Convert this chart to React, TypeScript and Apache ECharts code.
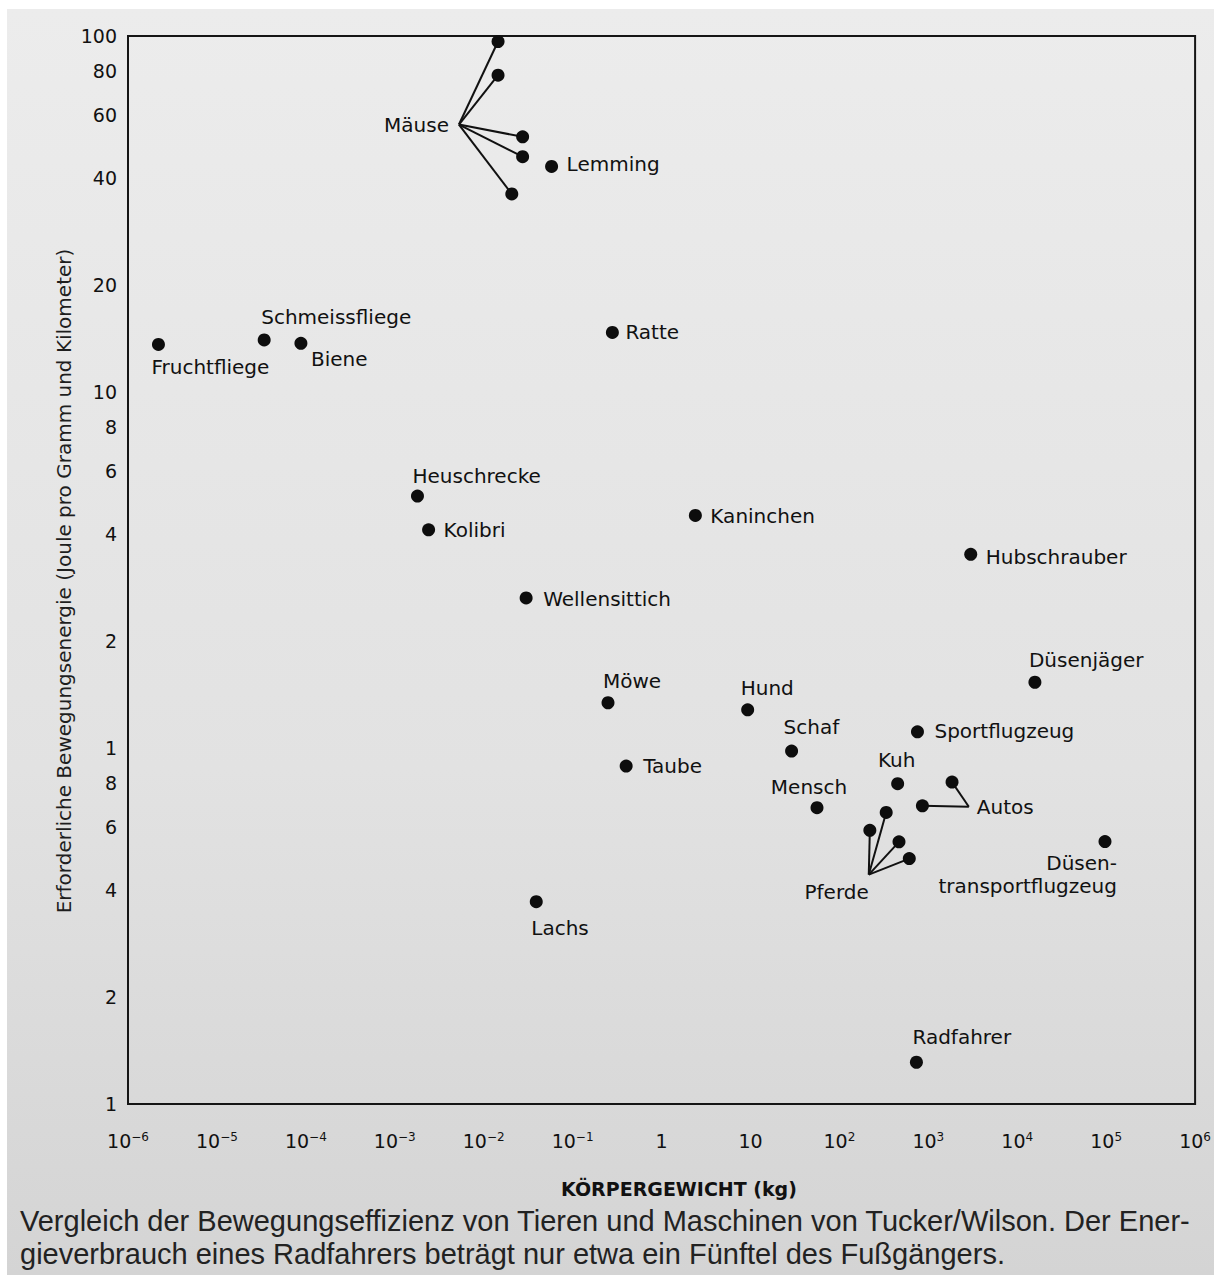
import React, { useEffect, useRef } from "react";
import * as echarts from "echarts";

// ---------- data (mass in kg, energy in J per g per km) ----------
const X_MIN = 1e-6;
const X_MAX = 1e6;
const Y_MIN = 0.1;
const Y_MAX = 100;

const pointNames = [
  "Lemming", "Fruchtfliege", "Schmeissfliege", "Biene", "Ratte", "Heuschrecke",
  "Kolibri", "Kaninchen", "Hubschrauber", "Wellensittich", "Möwe", "Hund",
  "Düsenjäger", "Sportflugzeug", "Schaf", "Taube", "Kuh", "Mensch",
  "Düsen-\ntransportflugzeug", "Lachs", "Radfahrer",
];
const pointMass = [
  0.058, 2.2e-6, 3.4e-5, 8.8e-5, 0.28, 0.0018,
  0.0024, 2.4, 3000, 0.030, 0.25, 9.3,
  15800, 755, 29, 0.40, 452, 56,
  97000, 0.039, 735,
];
const pointEnergy = [
  43, 13.6, 14.0, 13.7, 14.7, 5.1,
  4.1, 4.5, 3.5, 2.64, 1.34, 1.28,
  1.53, 1.11, 0.98, 0.89, 0.794, 0.68,
  0.546, 0.37, 0.131,
];

const mouseMass = [0.0145, 0.0145, 0.0274, 0.0274, 0.0207];
const mouseEnergy = [96.5, 77.6, 52.1, 45.8, 36.0];
const horseMass = [336, 220, 468, 611];
const horseEnergy = [0.659, 0.587, 0.545, 0.489];
const carMass = [1848, 858];
const carEnergy = [0.802, 0.688];

const groupNames = ["Mäuse", "Pferde", "Autos"];
const groupAnchorMass = [0.00527, 214, 2855];
const groupAnchorEnergy = [56.4, 0.441, 0.684];

const yTickValues = [100, 80, 60, 40, 20, 10, 8, 6, 4, 2, 1, 0.8, 0.6, 0.4, 0.2, 0.1];
const yTickLabels = ["100", "80", "60", "40", "20", "10", "8", "6", "4", "2", "1", "8", "6", "4", "2", "1"];

const yAxisTitle = "Erforderliche Bewegungsenergie (Joule pro Gramm und Kilometer)";
const xAxisTitle = "KÖRPERGEWICHT (kg)";
const captionLines = [
  "Vergleich der Bewegungseffizienz von Tieren und Maschinen von Tucker/Wilson. Der Ener-",
  "gieverbrauch eines Radfahrers beträgt nur etwa ein Fünftel des Fußgängers.",
];

// ---------- label placement (screen offsets, styling) ----------
type Place = { dx: number; dy: number; align: "left" | "center" | "right" };
const labelPlace: Record<string, Place> = {
  "Lemming": { dx: 15, dy: -2, align: "left" },
  "Fruchtfliege": { dx: -7, dy: 23, align: "left" },
  "Schmeissfliege": { dx: -3, dy: -23, align: "left" },
  "Biene": { dx: 10, dy: 16, align: "left" },
  "Ratte": { dx: 13, dy: 0, align: "left" },
  "Heuschrecke": { dx: -5, dy: -20, align: "left" },
  "Kolibri": { dx: 15, dy: 0, align: "left" },
  "Kaninchen": { dx: 15, dy: 1, align: "left" },
  "Hubschrauber": { dx: 15, dy: 3, align: "left" },
  "Wellensittich": { dx: 17, dy: 1, align: "left" },
  "Möwe": { dx: -5, dy: -22, align: "left" },
  "Hund": { dx: -7, dy: -22, align: "left" },
  "Düsenjäger": { dx: -6, dy: -22, align: "left" },
  "Sportflugzeug": { dx: 17, dy: -1, align: "left" },
  "Schaf": { dx: -8, dy: -24, align: "left" },
  "Taube": { dx: 17, dy: 0, align: "left" },
  "Kuh": { dx: -1, dy: -24, align: "center" },
  "Mensch": { dx: -8, dy: -21, align: "center" },
  "Düsen-\ntransportflugzeug": { dx: 12, dy: 33, align: "right" },
  "Lachs": { dx: -5, dy: 26, align: "left" },
  "Radfahrer": { dx: -4, dy: -25, align: "left" },
  "Mäuse": { dx: -10, dy: 0, align: "right" },
  "Pferde": { dx: 0, dy: 17, align: "right" },
  "Autos": { dx: 8, dy: 0, align: "left" },
};

const FONT = "'DejaVu Sans', 'Liberation Sans', sans-serif";
const INK = "#111111";

function xTickLabel(v: number): string {
  const n = Math.round(Math.log10(v));
  if (n === 0) return "{b|1}";
  if (n === 1) return "{b|10}";
  const exp = n < 0 ? "\u2212" + Math.abs(n) : String(n);
  return "{b|10}{s|" + exp + "}";
}

function pointLabel(name: string) {
  const p = labelPlace[name];
  return {
    show: true,
    position: "inside",
    align: p.align,
    verticalAlign: "middle",
    offset: [p.dx, p.dy],
    formatter: name,
    color: INK,
    fontFamily: FONT,
    fontSize: 20,
    lineHeight: 23,
  };
}

export default function App() {
  const ref = useRef<HTMLDivElement>(null);

  useEffect(() => {
    const chart = echarts.init(ref.current!, null, { renderer: "svg" });

    const connectors: any[] = [];
    mouseMass.forEach((m, i) =>
      connectors.push({ coords: [[groupAnchorMass[0], groupAnchorEnergy[0]], [m, mouseEnergy[i]]] })
    );
    horseMass.forEach((m, i) =>
      connectors.push({ coords: [[groupAnchorMass[1], groupAnchorEnergy[1]], [m, horseEnergy[i]]] })
    );
    carMass.forEach((m, i) =>
      connectors.push({ coords: [[groupAnchorMass[2], groupAnchorEnergy[2]], [m, carEnergy[i]]] })
    );

    const groupDots: number[][] = [
      ...mouseMass.map((m, i) => [m, mouseEnergy[i]]),
      ...horseMass.map((m, i) => [m, horseEnergy[i]]),
      ...carMass.map((m, i) => [m, carEnergy[i]]),
    ];

    const dotStyle = { color: "#0d0d0d", opacity: 1 };
    const hiddenStyle = { color: "rgba(0,0,0,0)", opacity: 1 };

    chart.setOption({
      animation: false,
      backgroundColor: "transparent",
      grid: {
        left: 128,
        top: 36,
        width: 1068,
        height: 1068,
        show: true,
        borderColor: "#151515",
        borderWidth: 2,
        backgroundColor: "transparent",
      },
      xAxis: {
        type: "log",
        logBase: 10,
        min: X_MIN,
        max: X_MAX,
        interval: 1,
        axisLine: { show: false },
        axisTick: { show: false },
        splitLine: { show: false },
        axisLabel: {
          margin: 27,
          formatter: xTickLabel,
          rich: {
            b: { fontSize: 19, fontFamily: FONT, color: INK },
            s: { fontSize: 12, fontFamily: FONT, color: INK, verticalAlign: "top" },
          },
        },
      },
      yAxis: {
        type: "log",
        logBase: 10,
        min: Y_MIN,
        max: Y_MAX,
        axisLine: { show: false },
        axisTick: { show: false },
        splitLine: { show: false },
        axisLabel: { show: false },
      },
      series: [
        {
          type: "lines",
          coordinateSystem: "cartesian2d",
          silent: true,
          symbol: "none",
          lineStyle: { color: "#111", width: 2, opacity: 1, curveness: 0 },
          data: connectors,
          z: 2,
        },
        {
          type: "scatter",
          silent: true,
          symbolSize: 13,
          itemStyle: dotStyle,
          data: groupDots,
          z: 3,
        },
        {
          type: "scatter",
          silent: true,
          symbolSize: 13,
          itemStyle: dotStyle,
          data: pointNames.map((n, i) => ({
            name: n,
            value: [pointMass[i], pointEnergy[i]],
            label: pointLabel(n),
          })),
          z: 3,
        },
        {
          type: "scatter",
          silent: true,
          symbolSize: 0,
          itemStyle: hiddenStyle,
          data: groupNames.map((n, i) => ({
            name: n,
            value: [groupAnchorMass[i], groupAnchorEnergy[i]],
            label: pointLabel(n),
          })),
          z: 4,
        },
        {
          type: "scatter",
          silent: true,
          clip: false,
          symbolSize: 0,
          itemStyle: hiddenStyle,
          data: yTickValues.map((v, i) => ({
            value: [X_MIN, v],
            label: {
              show: true,
              position: "left",
              distance: 11,
              formatter: yTickLabels[i],
              color: INK,
              fontFamily: FONT,
              fontSize: 19,
            },
          })),
          z: 4,
        },
      ],
      graphic: [
        {
          type: "text",
          x: 64,
          y: 581,
          rotation: Math.PI / 2,
          silent: true,
          style: {
            text: yAxisTitle,
            fill: "#1e1e1e",
            fontFamily: FONT,
            fontSize: 20,
            align: "center",
            verticalAlign: "middle",
          },
        },
        {
          type: "text",
          x: 679,
          y: 1189,
          silent: true,
          style: {
            text: xAxisTitle,
            fill: "#111",
            fontFamily: FONT,
            fontWeight: "bold",
            fontSize: 19,
            align: "center",
            verticalAlign: "middle",
          },
        },
        ...captionLines.map((t, i) => ({
          type: "text",
          x: 20,
          y: 1221 + i * 33,
          silent: true,
          style: {
            text: t,
            fill: "#222",
            fontFamily: "'Liberation Sans Narrow', 'Liberation Sans', sans-serif",
            fontSize: 29,
            align: "left",
            verticalAlign: "middle",
          },
        })),
      ],
    });

    return () => chart.dispose();
  }, []);

  return (
    <div style={{ position: "absolute", left: 0, top: 0, width: 1214, height: 1275, background: "#ffffff", overflow: "hidden" }}>
      <div
        style={{
          position: "absolute",
          left: 7,
          top: 9,
          right: 0,
          bottom: 0,
          background: "linear-gradient(180deg, #ececec 0%, #e2e2e2 60%, #d4d4d4 100%)",
        }}
      />
      <div ref={ref} style={{ position: "absolute", left: 0, top: 0, width: 1214, height: 1275 }} />
    </div>
  );
}
